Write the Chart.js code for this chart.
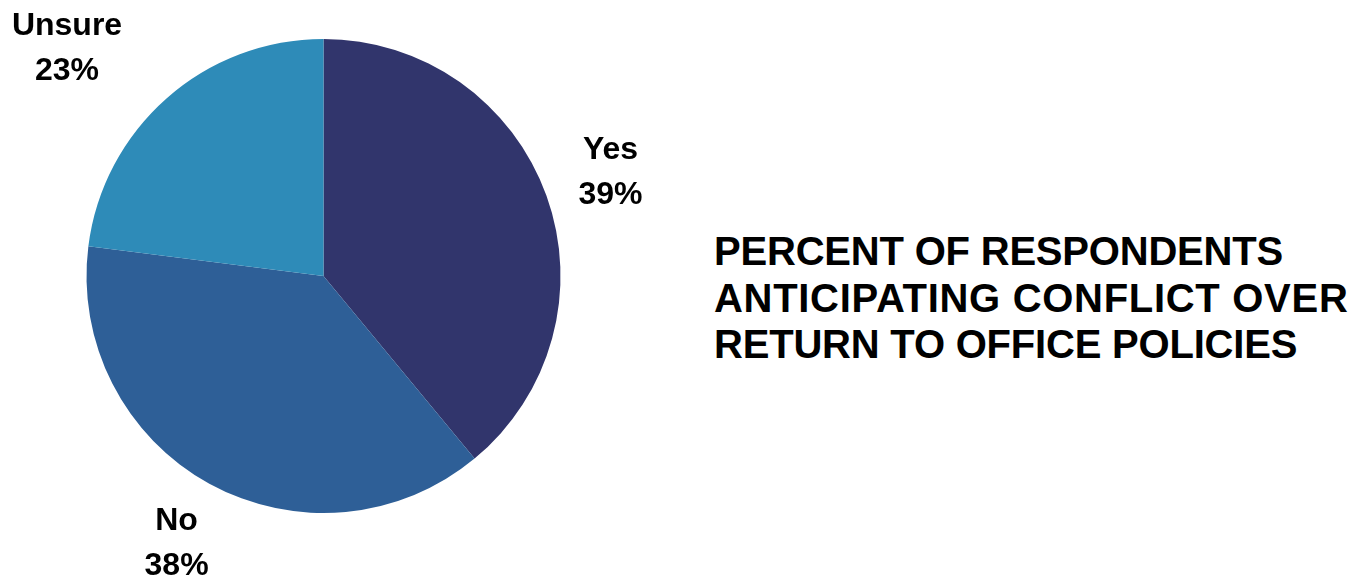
<!DOCTYPE html>
<html>
<head>
<meta charset="utf-8">
<script src="https://cdn.jsdelivr.net/npm/chart.js@4"></script>
<style>
  html, body { margin: 0; padding: 0; background: #fff; }
  #wrap { position: relative; width: 1353px; height: 578px; overflow: hidden; }
  #pieBox { position: absolute; left: 0; top: 0; width: 647px; height: 578px; }
  #title {
    position: absolute; left: 714px; top: 228px;
    font-family: 'Liberation Sans', Arial, sans-serif; font-weight: bold;
    font-size: 40px; line-height: 46.5px; letter-spacing: 0.7px; color: #000;
    white-space: nowrap;
  }
  #title .tight { letter-spacing: -0.2px; }
</style>
</head>
<body>
<div id="wrap">
  <div id="pieBox"><canvas id="pieChart"></canvas></div>
  <div id="title"><span class="tight">PERCENT OF RESPONDENTS</span><br>ANTICIPATING CONFLICT OVER<br><span class="tight">RETURN TO OFFICE POLICIES</span></div>
</div>
<script>
const answers = ['Yes', 'No', 'Unsure'];
const shares = [39, 38, 23];
const sliceColors = ['#31356c', '#2e5f97', '#2e8bb8'];

// label + percentage drawn just outside each slice
const outsideLabels = {
  id: 'outsideLabels',
  afterDatasetsDraw(chart) {
    const ctx = chart.ctx;
    const extra = [68, 68, 106];     // distance past the rim
    const turn = [0, 0, -0.122];     // nudge along the rim (radians)
    chart.getDatasetMeta(0).data.forEach((arc, i) => {
      const mid = (arc.startAngle + arc.endAngle) / 2 + turn[i];
      const r = arc.outerRadius + extra[i];
      const x = arc.x + Math.cos(mid) * r;
      const y = arc.y + Math.sin(mid) * r;
      ctx.save();
      ctx.fillStyle = '#000';
      ctx.font = 'bold 32px "Liberation Sans", Arial, sans-serif';
      ctx.textAlign = 'center';
      ctx.textBaseline = 'middle';
      ctx.fillText(answers[i], x, y - 22.5);
      ctx.fillText(shares[i] + '%', x, y + 22.5);
      ctx.restore();
    });
  }
};

new Chart(document.getElementById('pieChart'), {
  type: 'pie',
  data: {
    labels: answers,
    datasets: [{
      data: shares,
      backgroundColor: sliceColors,
      borderWidth: 0
    }]
  },
  options: {
    responsive: true,
    maintainAspectRatio: false,
    animation: false,
    layout: { padding: { top: 39, bottom: 65, left: 86, right: 86 } },
    plugins: {
      legend: { display: false },
      tooltip: { enabled: false }
    }
  },
  plugins: [outsideLabels]
});
</script>
</body>
</html>
